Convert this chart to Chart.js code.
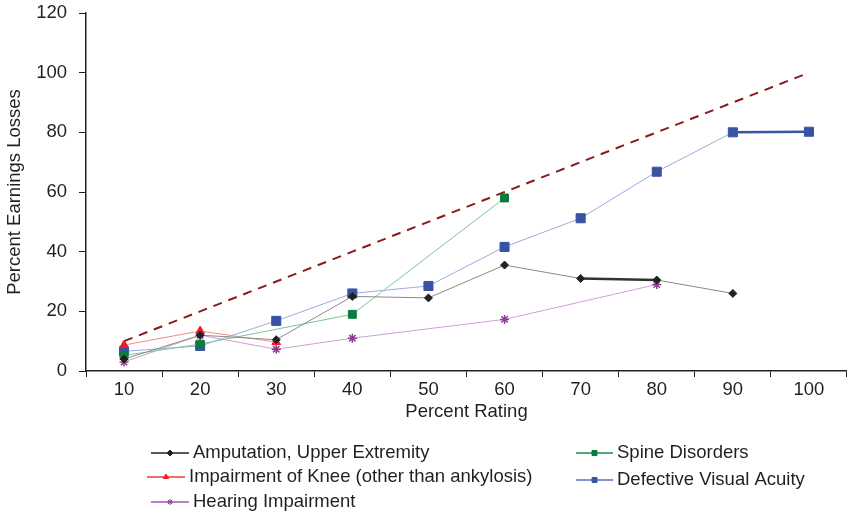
<!DOCTYPE html>
<html>
<head>
<meta charset="utf-8">
<title>Percent Earnings Losses by Percent Rating</title>
<script src="https://cdn.jsdelivr.net/npm/chart.js@4/dist/chart.umd.min.js"></script>
<style>
  html, body { margin: 0; padding: 0; background: #fff; }
  #wrap { width: 847px; height: 515px; position: relative; }
</style>
</head>
<body>
<div id="wrap"><canvas id="chart"></canvas></div>
<script>
// --- DATA ---
const ratings = ['10', '20', '30', '40', '50', '60', '70', '80', '90', '100'];
const parity = [10, 20, 30, 40, 50, 60, 70, 80, 90, 100];
const amputation = [4, 12, 10.5, 25, 24.5, 35.5, 31, 30.5, 26, null];
const knee = [8.7, 13.4, 9.7, null, null, null, null, null, null, null];
const hearing = [3, 12, 7.3, 11, null, 17.3, null, 29, null, null];
const spine = [5.2, 9, null, 19, null, 58, null, null, null, null];
const visual = [6.6, 8.4, 16.8, 26, 28.5, 41.6, 51.2, 66.8, 80, 80.2];
const yTicks = [0, 20, 40, 60, 80, 100, 120];

const FONT = "'Liberation Sans', Arial, Helvetica, sans-serif";

// thicker, darker stroke on one chosen segment of a series
const heavySegment = (index, color) => ({
    borderWidth: ctx => ctx.p0DataIndex === index ? 2.5 : undefined,
    borderColor: ctx => ctx.p0DataIndex === index ? color : undefined
});

const datasets = [
    {
        label: 'Amputation, Upper Extremity',
        data: amputation,
        borderColor: '#8a8a8a',
        borderWidth: 1,
        pointStyle: 'rectRot',
        pointRadius: 4,
        pointBackgroundColor: '#222',
        pointBorderColor: '#222',
        spanGaps: true,
        segment: heavySegment(6, '#333'),
        legendColor: '#222',
        legendAt: { x1: 151, x2: 189, y: 453, tx: 193 }
    },
    {
        label: 'Spine Disorders',
        data: spine,
        borderColor: '#7cc69a',
        borderWidth: 1,
        pointStyle: 'rect',
        pointRadius: 5.6,
        pointBackgroundColor: '#0a7d3e',
        pointBorderColor: '#0a7d3e',
        spanGaps: true,
        legendColor: '#1e8a4a',
        legendAt: { x1: 576, x2: 613, y: 453, tx: 617 }
    },
    {
        label: 'Impairment of Knee (other than ankylosis)',
        data: knee,
        borderColor: '#f28a8a',
        borderWidth: 1,
        pointStyle: 'triangle',
        pointRadius: 5,
        pointBackgroundColor: '#ee1c25',
        pointBorderColor: '#ee1c25',
        spanGaps: true,
        legendColor: '#ee3b3b',
        legendAt: { x1: 147, x2: 185, y: 477, tx: 189 }
    },
    {
        label: 'Defective Visual Acuity',
        data: visual,
        borderColor: '#9dabdf',
        borderWidth: 1,
        pointStyle: 'rect',
        pointRadius: 6.4,
        pointBackgroundColor: '#3953a4',
        pointBorderColor: '#3953a4',
        spanGaps: true,
        segment: heavySegment(8, '#3953a4'),
        legendColor: '#5b6fbf',
        legendAt: { x1: 576, x2: 613, y: 480, tx: 617 }
    },
    {
        label: 'Hearing Impairment',
        data: hearing,
        borderColor: '#cfa0d6',
        borderWidth: 1,
        pointStyle: 'star',
        pointRadius: 4.5,
        pointBackgroundColor: '#8e3b96',
        pointBorderColor: '#8e3b96',
        pointBorderWidth: 1.5,
        spanGaps: true,
        legendColor: '#9b59b6',
        legendAt: { x1: 151, x2: 189, y: 502, tx: 193 }
    },
    {
        label: 'parity',
        data: parity,
        borderColor: '#8b1a1a',
        borderWidth: 2,
        borderDash: [9, 7],
        pointRadius: 0,
        fill: false
    }
];

// legend laid out in two columns under the plot
const bottomLegend = {
    id: 'bottomLegend',
    afterDraw(chart) {
        const ctx = chart.ctx;
        ctx.save();
        chart.data.datasets.forEach(ds => {
            const p = ds.legendAt;
            if (!p) return;
            ctx.strokeStyle = ds.legendColor;
            ctx.lineWidth = 1.5;
            ctx.beginPath();
            ctx.moveTo(p.x1, p.y);
            ctx.lineTo(p.x2, p.y);
            ctx.stroke();
            ctx.fillStyle = ds.pointBackgroundColor;
            ctx.strokeStyle = ds.pointBackgroundColor;
            ctx.lineWidth = 1;
            Chart.helpers.drawPoint(ctx, {
                pointStyle: ds.pointStyle,
                radius: ds.pointStyle === 'rect' ? 3.5 : 3,
                rotation: 0,
                borderWidth: 1
            }, (p.x1 + p.x2) / 2, p.y);
            ctx.fillStyle = '#231f20';
            ctx.font = '18.5px ' + FONT;
            ctx.textAlign = 'left';
            ctx.textBaseline = 'middle';
            ctx.fillText(ds.label, p.tx, p.y);
        });
        ctx.restore();
    }
};

new Chart(document.getElementById('chart'), {
    type: 'line',
    data: { labels: ratings, datasets: datasets },
    plugins: [bottomLegend],
    options: {
        responsive: true,
        maintainAspectRatio: false,
        animation: false,
        layout: { autoPadding: false, padding: { top: 13, right: 0, bottom: 92, left: 0 } },
        plugins: {
            legend: { display: false },
            tooltip: { enabled: false }
        },
        scales: {
            x: {
                offset: true,
                grid: { offset: true, drawOnChartArea: false, drawTicks: true, tickLength: 6, color: '#231f20' },
                border: { color: '#231f20', width: 1.5 },
                ticks: { color: '#231f20', font: { family: FONT, size: 18.5 }, padding: 2, maxRotation: 0 },
                title: { display: true, text: 'Percent Rating', color: '#231f20', font: { family: FONT, size: 18.5 }, padding: { top: 4, bottom: 0 } },
                afterFit(scale) {
                    scale.height = 52;
                    scale.paddingLeft = 0;
                    scale.paddingRight = 0;
                }
            },
            y: {
                min: 0,
                max: 120,
                afterBuildTicks(scale) { scale.ticks = yTicks.map(v => ({ value: v })); },
                grid: { drawOnChartArea: false, drawTicks: true, tickLength: 7, color: '#231f20' },
                border: { color: '#231f20', width: 1.5 },
                ticks: { color: '#231f20', font: { family: FONT, size: 18.5 }, padding: 12 },
                title: { display: true, text: 'Percent Earnings Losses', color: '#231f20', font: { family: FONT, size: 18.5 }, padding: { top: 4, bottom: 0 } },
                afterFit(scale) {
                    scale.width = 86;
                    scale.paddingTop = 0;
                    scale.paddingBottom = 0;
                }
            }
        }
    }
});
</script>
</body>
</html>
